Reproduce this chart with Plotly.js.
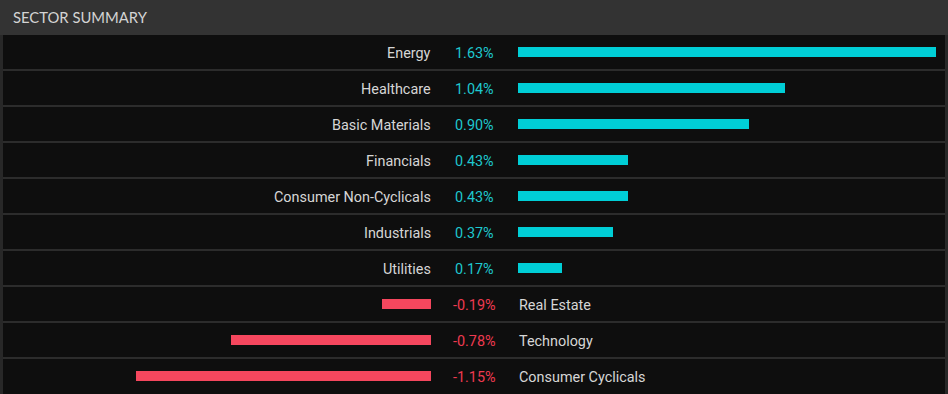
<!DOCTYPE html>
<html><head><meta charset="utf-8">
<script src="https://cdn.plot.ly/plotly-3.0.1.min.js"></script>
<style>html,body{margin:0;padding:0;background:#0e0e0e;}#chart{width:948px;height:394px;}</style>
</head><body><div id="chart"></div>
<script>
const title = "SECTOR SUMMARY";
const sectors = ["Energy","Healthcare","Basic Materials","Financials","Consumer Non-Cyclicals","Industrials","Utilities","Real Estate","Technology","Consumer Cyclicals"];
const changes = [1.63,1.04,0.90,0.43,0.43,0.37,0.17,-0.19,-0.78,-1.15];

const W = 948, H = 394;
const pxPerPct = 256.5;
const posZero = 518, negZero = 431, valCenter = 474.5;
const rowTop = 52, rowH = 36;
const UP = '#00ced6', DOWN = '#f5475e', UPTXT = '#1ec8cf', DOWNTXT = '#ee3a50';

const idx = sectors.map((_, i) => i);
const posI = idx.filter(i => changes[i] >= 0);
const negI = idx.filter(i => changes[i] < 0);

const traces = [
  {type:'bar', orientation:'h', x: posI.map(i=>changes[i]), y: posI, xaxis:'x', yaxis:'y',
   marker:{color:UP}, width:0.28, hoverinfo:'skip'},
  {type:'bar', orientation:'h', x: negI.map(i=>changes[i]), y: negI, xaxis:'x2', yaxis:'y',
   marker:{color:DOWN}, width:0.28, hoverinfo:'skip'}
];

const ann = [];
const font = {family:'Roboto, "Open Sans", sans-serif', size:14.4, color:'#d6d6d6'};
idx.forEach(i => {
  const v = changes[i];
  const txt = (v < 0 ? '-' : '') + Math.abs(v).toFixed(2) + '%';
  ann.push({xref:'paper', yref:'y', x: valCenter/W, y:i, yshift:-1, text:txt, showarrow:false, xanchor:'center', yanchor:'middle',
    font:Object.assign({}, font, {color: v<0?DOWNTXT:UPTXT})});
  if (v >= 0) {
    ann.push({xref:'paper', yref:'y', x:(negZero+1.5)/W, y:i, yshift:-1, text:sectors[i], showarrow:false, xanchor:'right', yanchor:'middle', font:font});
  } else {
    ann.push({xref:'paper', yref:'y', x:(posZero-1)/W, y:i, yshift:-1, text:sectors[i], showarrow:false, xanchor:'left', yanchor:'middle', font:font});
  }
});
ann.push({xref:'paper', yref:'paper', x:11/W, y:1-17.5/H, text:title, showarrow:false, xanchor:'left', yanchor:'middle',
  font:{family:'Lato, "Open Sans", sans-serif', size:14.8, color:'#d4d4d4'}});

const shapes = [
  {type:'rect', xref:'paper', yref:'paper', x0:0, x1:1, y0:1-35/H, y1:1, fillcolor:'#333333', line:{width:0}, layer:'below'},
  {type:'rect', xref:'paper', yref:'paper', x0:0, x1:3/W, y0:0, y1:1-35/H, fillcolor:'#282828', line:{width:0}, layer:'below'},
  {type:'rect', xref:'paper', yref:'paper', x0:945/W, x1:1, y0:0, y1:1-35/H, fillcolor:'#282828', line:{width:0}, layer:'below'}
];
for (let k = 0; k < sectors.length - 1; k++) {
  shapes.push({type:'line', xref:'paper', yref:'y', x0:3/W, x1:945/W, y0:k+0.5, y1:k+0.5, line:{color:'#2c2c2c', width:2}, layer:'below'});
}

const yTop = -rowTop/rowH, yBot = (H-rowTop)/rowH;
const layout = {
  width:W, height:H, margin:{l:0,r:0,t:0,b:0}, paper_bgcolor:'#0e0e0e', plot_bgcolor:'rgba(0,0,0,0)',
  showlegend:false, bargap:0,
  xaxis:{domain:[posZero/W, 1], range:[0, (W-posZero)/pxPerPct], visible:false, fixedrange:true},
  xaxis2:{domain:[0, negZero/W], range:[-negZero/pxPerPct, 0], visible:false, fixedrange:true, anchor:'y'},
  yaxis:{domain:[0,1], range:[yBot, yTop], visible:false, fixedrange:true},
  annotations:ann, shapes:shapes
};
Plotly.newPlot('chart', traces, layout, {displayModeBar:false, staticPlot:true});
</script></body></html>
